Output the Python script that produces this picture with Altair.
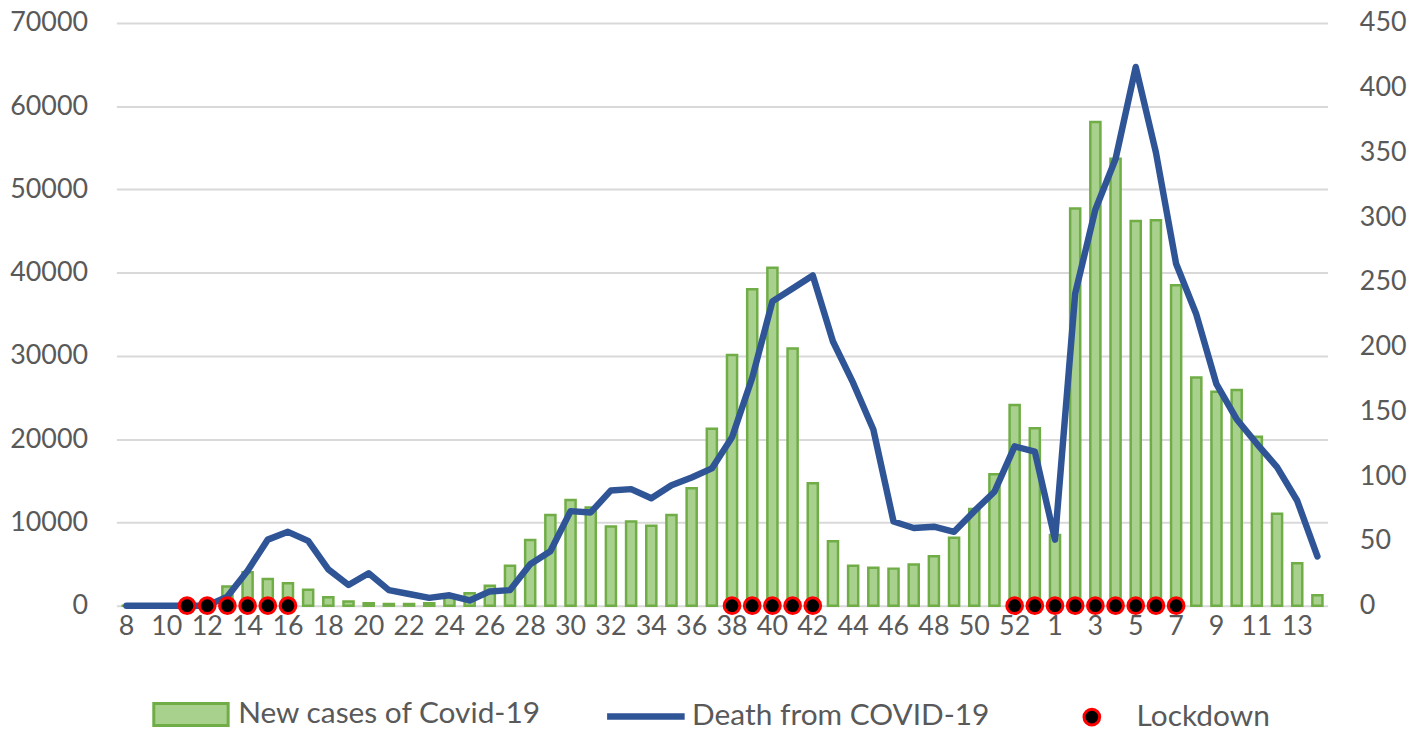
import altair as alt
import pandas as pd

# ---- data ----
weeks_2020 = list(range(8, 54))   # ISO weeks 8..53 of 2020
weeks_2021 = list(range(1, 15))   # ISO weeks 1..14 of 2021

cases_2020 = [0, 0, 0, 100, 600, 2300, 4000, 3200, 2700, 1900,
              1000, 500, 300, 200, 200, 300, 1100, 1500, 2400, 4800,
              7900, 10900, 12700, 11800, 9500, 10100, 9600, 10900, 14100, 21250,
              30100, 38000, 40600, 30900, 14700, 7750, 4800, 4550, 4450, 4950,
              5950, 8150, 11600, 15800, 24100, 21300]
cases_2021 = [8500, 47700, 58100, 53700, 46200, 46300, 38500, 27400, 25700, 25900,
              20300, 11050, 5100, 1250]

deaths_2020 = [0, 0, 0, 0, 0, 7, 27, 51, 57, 50,
               28, 16, 25, 12, 9, 6, 8, 4, 11, 12,
               32, 42, 73, 72, 89, 90, 83, 93, 99, 106,
               130, 176, 235, 245, 255, 204, 172, 136, 65, 60,
               61, 57, 73, 88, 123, 119]
deaths_2021 = [51, 241, 306, 345, 416, 350, 264, 225, 171, 144,
               125, 107, 81, 38]

lockdown_2020 = [11, 12, 13, 14, 15, 16, 38, 39, 40, 41, 42, 52, 53]
lockdown_2021 = [1, 2, 3, 4, 5, 6, 7]

left_ticks = [0, 10000, 20000, 30000, 40000, 50000, 60000, 70000]
right_ticks = [0, 50, 100, 150, 200, 250, 300, 350, 400, 450]

# ---- tables ----
labels = [str(w) for w in weeks_2020] + [str(w) for w in weeks_2021]
keys = [("2020", w) for w in weeks_2020] + [("2021", w) for w in weeks_2021]
n = len(labels)
df = pd.DataFrame({
    "idx": list(range(n)),
    "week": labels,
    "cases": cases_2020 + cases_2021,
    "deaths": deaths_2020 + deaths_2021,
})
lock_keys = [("2020", w) for w in lockdown_2020] + [("2021", w) for w in lockdown_2021]
df_lock = pd.DataFrame({"idx": [keys.index(k) for k in lock_keys]})
df_lock["zero"] = 0

label_arr = "[" + ",".join("'" + s + "'" for s in labels) + "]"

FONT = "Lato"
GREY = "#595959"
TICK_FS = 27

xscale = alt.Scale(domain=list(range(n)), paddingInner=0.5, paddingOuter=0.25)
xaxis = alt.Axis(values=list(range(0, n, 2)), labelExpr=label_arr + "[datum.value]",
                 title=None, labelAngle=0, domain=False, ticks=False, grid=False,
                 labelPadding=8, labelFontSize=TICK_FS, labelColor=GREY, labelFont=FONT)

right_axis = alt.Axis(orient="right", values=right_ticks, title=None, grid=False, format="d",
                      domain=False, ticks=False, labelPadding=32, labelFontSize=TICK_FS,
                      labelColor=GREY, labelFont=FONT)

bars = alt.Chart(df).transform_calculate(s1="'New cases of Covid-19'").mark_bar(
    stroke="#70AD47", strokeWidth=2.5
).encode(
    x=alt.X("idx:O", scale=xscale, axis=xaxis),
    y=alt.Y("cases:Q", scale=alt.Scale(domain=[0, 70000], nice=False),
            axis=alt.Axis(orient="left", values=left_ticks, title=None, grid=True, format="d",
                          gridColor="#D9D9D9", gridWidth=2, domain=False, ticks=False,
                          labelPadding=29, labelFontSize=TICK_FS, labelColor=GREY, labelFont=FONT)),
    color=alt.Color("s1:N", scale=alt.Scale(domain=["New cases of Covid-19"], range=["#A9D18E"]),
                    legend=alt.Legend(orient="none", legendX=51.5, legendY=672, title=None,
                                      symbolType="M-1.7,-0.5H1.7V0.5H-1.7Z", symbolSize=1936,
                                      symbolStrokeColor="#70AD47", symbolStrokeWidth=3,
                                      labelOffset=24, padding=0)),
)

line = alt.Chart(df).transform_calculate(s2="'Death from COVID-19'").mark_line(
    strokeWidth=6.5, strokeCap="round", strokeJoin="round"
).encode(
    x=alt.X("idx:O", scale=xscale, axis=xaxis, bandPosition=0.5),
    y=alt.Y("deaths:Q", scale=alt.Scale(domain=[0, 450], nice=False), axis=right_axis),
    stroke=alt.Stroke("s2:N", scale=alt.Scale(domain=["Death from COVID-19"], range=["#2F5597"]),
                      legend=alt.Legend(orient="none", legendX=490, legendY=655, title=None,
                                        symbolType="stroke", symbolSize=6084,
                                        symbolStrokeWidth=6.5, labelOffset=4, padding=0)),
)

points = alt.Chart(df_lock).transform_calculate(s3="'Lockdown'").mark_circle(
    size=250, stroke="#FF0000", strokeWidth=3, opacity=1
).encode(
    x=alt.X("idx:O", scale=xscale, axis=xaxis, bandPosition=0.5),
    y=alt.Y("zero:Q", scale=alt.Scale(domain=[0, 450], nice=False), axis=right_axis),
    fill=alt.Fill("s3:N", scale=alt.Scale(domain=["Lockdown"], range=["#000000"]),
                  legend=alt.Legend(orient="none", legendX=966, legendY=683, title=None,
                                    symbolType="circle", symbolSize=250,
                                    symbolStrokeColor="#FF0000", symbolStrokeWidth=3,
                                    labelOffset=30, padding=0)),
)

chart = alt.layer(bars, alt.layer(line, points)).resolve_scale(y="independent").properties(
    width=1218, height=586,
    autosize=alt.AutoSizeParams(type="none"),
    padding={"left": 109, "top": 13, "right": 89, "bottom": 125},
).configure_view(stroke=None).configure_legend(
    labelFont=FONT, labelFontSize=30, labelColor=GREY, labelLimit=0
)

chart.save("out.html", embed_options={"renderer": "svg", "actions": False})
